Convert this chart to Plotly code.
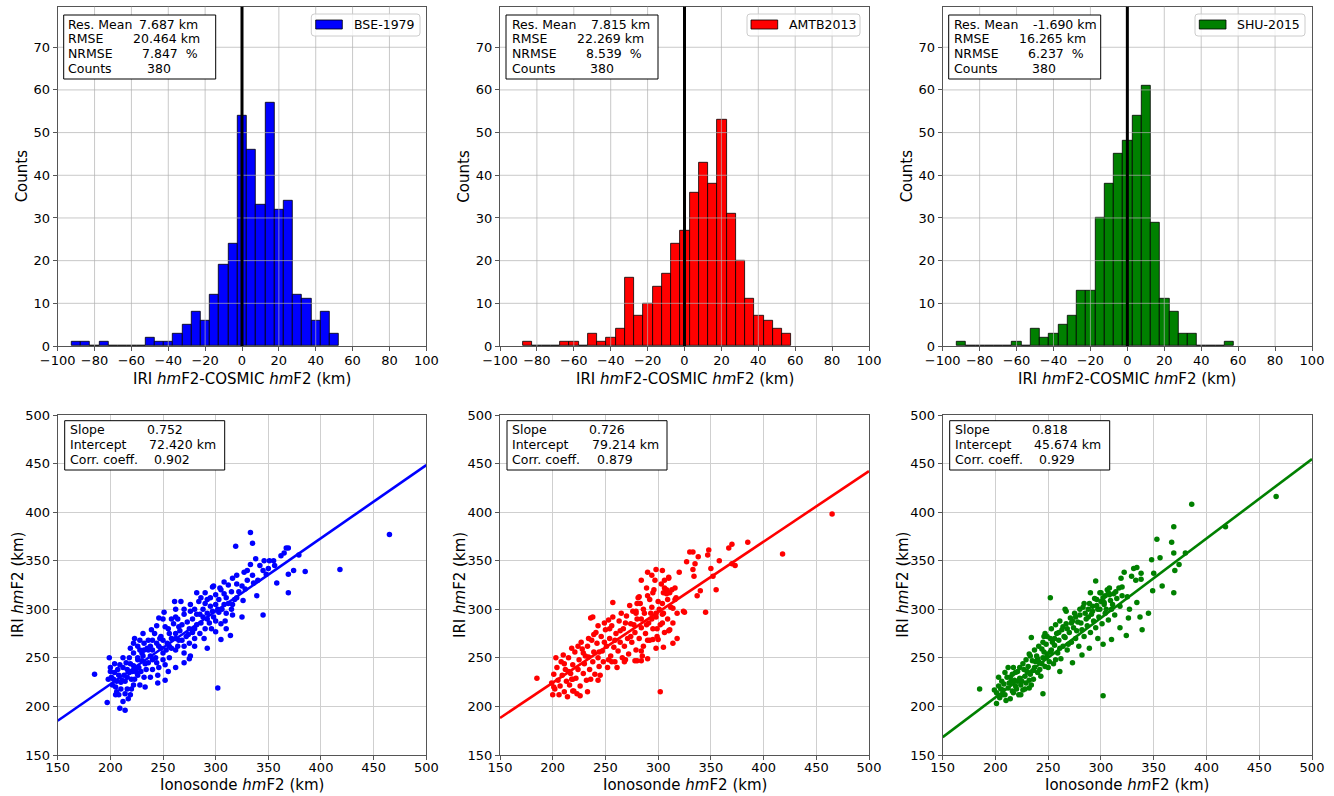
import plotly.graph_objects as go

W, H = 1334, 796
FONT = "DejaVu Sans"

models = ["BSE-1979", "AMTB2013", "SHU-2015"]
colors = ["#0000ff", "#ff0000", "#008000"]

# Residual histograms (IRI hmF2 - COSMIC hmF2): counts per 5 km bin
bse_counts = [1, 1, 0, 1, 0, 0, 0, 0, 2, 1, 1, 3, 5, 8, 6, 12, 19, 24, 54, 46,
              33, 57, 32, 34, 12, 11, 6, 8, 3]
amtb_counts = [1, 0, 0, 0, 1, 1, 0, 3, 1, 2, 4, 16, 7, 10, 14, 17, 24, 27, 36, 43,
               38, 53, 31, 20, 11, 7, 6, 4, 3]
shu_counts = [1, 0, 0, 0, 0, 0, 1, 0, 4, 2, 3, 5, 7, 13, 13, 30, 38, 45, 48, 54,
              61, 29, 11, 8, 3, 3, 0, 0, 0, 1]
# first and last bin edge (km)
bse_edges = (-92.4, 52.6)
amtb_edges = (-87.4, 57.9)
shu_edges = (-92.4, 57.7)

stat_labels = ["Res. Mean", "RMSE", "NRMSE", "Counts"]
bse_stats = ["7.687 km", "20.464 km", "7.847  %", "380"]
amtb_stats = ["7.815 km", "22.269 km", "8.539  %", "380"]
shu_stats = ["-1.690 km", "16.265 km", "6.237  %", "380"]

# Linear fits of IRI hmF2 against ionosonde hmF2
fit_labels = ["Slope", "Intercept", "Corr. coeff."]
slopes = [0.752, 0.726, 0.818]
intercepts = [72.420, 79.214, 45.674]
corrs = [0.902, 0.879, 0.929]

hist_xticks = list(range(-100, 101, 20))
hist_yticks = list(range(0, 71, 10))
sc_ticks = list(range(150, 501, 50))

# Ionosonde hmF2 (x) vs IRI hmF2 (y), km
bse_pts = [
    (185, 233), (465, 377), (418, 341), (302, 219), (385, 339), (369, 317), (345, 294),
    (333, 379), (335, 368), (319, 365), (367, 363), (369, 363), (379, 356), (374, 340),
    (369, 336), (358, 327), (333, 346), (338, 352), (346, 350), (351, 350), (356, 345),
    (348, 336), (336, 327), (339, 314), (326, 309), (325, 292), (314, 273), (305, 269),
    (316, 294), (309, 288), (297, 323), (298, 324), (290, 317), (267, 308), (261, 308),
    (251, 297), (246, 291), (239, 279), (231, 275), (223, 270), (219, 260), (199, 250),
    (197, 204), (209, 198), (214, 196), (252, 227), (245, 224), (275, 249), (292, 260),
    (289, 270), (233, 220), (219, 212),
    (208, 212), (212, 205), (217, 208), (205, 220), (210, 225), (203, 228), (213, 232),
    (220, 228), (225, 235), (228, 222), (232, 230), (222, 242), (215, 245), (207, 238),
    (200, 236), (204, 244), (212, 250), (218, 250), (226, 248), (230, 255), (236, 245),
    (240, 238), (243, 250), (238, 262), (232, 265), (228, 258), (246, 262), (250, 255),
    (254, 265), (258, 270), (248, 272), (244, 283), (250, 290), (255, 280), (262, 275),
    (265, 268), (270, 262), (272, 272), (268, 284), (275, 280), (278, 290), (282, 284),
    (285, 295), (288, 300), (280, 300), (284, 308), (292, 296), (295, 303), (298, 292),
    (300, 305), (303, 310), (306, 300), (310, 312), (312, 306), (308, 316), (300, 288),
    (296, 280), (305, 285), (290, 280), (285, 275), (280, 270), (275, 265), (270, 255),
    (262, 258), (256, 250), (252, 243), (246, 240), (240, 248), (236, 258), (258, 260),
    (264, 262), (280, 262), (276, 252), (270, 245), (262, 240), (255, 236), (245, 232),
    (238, 230), (234, 238), (300, 277), (310, 280), (315, 300), (318, 310), (322, 318),
    (325, 324), (330, 330), (335, 335), (328, 321), (320, 326), (315, 318), (312, 325),
    (305, 320), (300, 315), (295, 312), (290, 306), (282, 295), (276, 298), (270, 295),
    (264, 290), (262, 300), (258, 290), (252, 282), (247, 270), (240, 268), (235, 260),
    (230, 247), (224, 238), (218, 235), (214, 226), (208, 232), (202, 222), (205, 212),
    (210, 218), (216, 218), (222, 222), (226, 232), (212, 240), (219, 244), (226, 262),
    (222, 255), (231, 252), (236, 268), (242, 275), (240, 258), (248, 260), (253, 258),
    (260, 285), (266, 278), (273, 287), (278, 276), (286, 286), (292, 290), (297, 298),
    (303, 297), (308, 305), (292, 310), (286, 312), (310, 296), (316, 305), (320, 312),
    (340, 330), (345, 340), (350, 342), (355, 350), (362, 355), (365, 358), (342, 345),
    (330, 340), (327, 338), (320, 335), (316, 332), (308, 328), (304, 322), (265, 282),
    (262, 270), (256, 275), (250, 268), (244, 265), (238, 252), (233, 244), (227, 240),
    (221, 236), (216, 230), (211, 227), (206, 226), (201, 230), (204, 235), (209, 243),
    (216, 238), (223, 228), (229, 236), (206, 215), (214, 213), (220, 218), (200, 240),
    (198, 228), (232, 258), (228, 268), (222, 265), (226, 250), (244, 245), (250, 248),
    (256, 262), (268, 268), (274, 274), (280, 280), (288, 292), (294, 286), (302, 300),
    (270, 300), (276, 305), (282, 317), (262, 292),
]
amtb_pts = [
    (185, 229), (465, 398), (418, 357), (302, 215), (385, 369), (370, 367), (367, 363),
    (348, 361), (347, 356), (358, 350), (373, 345), (370, 347), (355, 320), (352, 334),
    (350, 342), (345, 297), (340, 319), (337, 314), (330, 359), (333, 359), (338, 354),
    (327, 349), (333, 341), (335, 347), (334, 334), (325, 297), (324, 298), (318, 270),
    (314, 265), (311, 279), (310, 278), (305, 261), (298, 260), (290, 249), (284, 257),
    (280, 247), (284, 247), (290, 268), (295, 269), (300, 269), (304, 286), (304, 295),
    (298, 296), (314, 301), (316, 310), (305, 317), (308, 320), (311, 317), (306, 330),
    (310, 333), (306, 322), (298, 341), (290, 338), (294, 335), (284, 330), (295, 317),
    (292, 310), (282, 313), (280, 306), (279, 298), (286, 300), (257, 307), (236, 291),
    (238, 292), (243, 283), (253, 289), (226, 211), (233, 215), (219, 216), (201, 220),
    (218, 228), (243, 227), (256, 246), (268, 246), (278, 247),
    (199, 224), (201, 233), (202, 218), (204, 240), (205, 227), (207, 221), (208, 246),
    (209, 232), (211, 215), (212, 238), (213, 226), (215, 250), (216, 222), (217, 234),
    (219, 243), (220, 216), (221, 256), (222, 229), (224, 238), (225, 248), (226, 221),
    (228, 259), (229, 234), (230, 244), (232, 227), (233, 262), (234, 251), (235, 238),
    (237, 268), (238, 246), (239, 256), (240, 233), (242, 265), (243, 250), (244, 241),
    (246, 272), (247, 257), (248, 246), (250, 279), (251, 262), (252, 240), (254, 270),
    (255, 252), (256, 283), (258, 261), (259, 246), (260, 275), (262, 257), (263, 288),
    (264, 266), (266, 250), (267, 280), (268, 262), (270, 293), (271, 270), (272, 254),
    (274, 285), (275, 266), (276, 298), (278, 276), (279, 258), (280, 290), (282, 270),
    (283, 306), (284, 281), (286, 262), (287, 296), (288, 275), (290, 314), (291, 286),
    (292, 268), (294, 302), (295, 280), (296, 320), (298, 292), (299, 272), (300, 308),
    (302, 284), (303, 326), (305, 296), (306, 276), (308, 316), (309, 290), (310, 332),
    (312, 302), (314, 286), (316, 322), (318, 296), (320, 338), (203, 250), (206, 212),
    (210, 253), (214, 210), (218, 260), (223, 213), (227, 266), (231, 252), (236, 228),
    (241, 276), (245, 232), (249, 286), (253, 248), (257, 292), (261, 240), (265, 296),
    (269, 248), (273, 304), (277, 284), (281, 312), (285, 252), (289, 322), (293, 296),
    (297, 330), (301, 300), (304, 340), (200, 212), (211, 244), (215, 236), (219, 228),
    (224, 262), (229, 255), (234, 270), (239, 274), (244, 256), (249, 266), (254, 280),
    (259, 268), (264, 278), (269, 286), (274, 272), (279, 296), (284, 290), (289, 284),
    (294, 290), (299, 280), (304, 306), (309, 310), (313, 320), (317, 312),
]
shu_pts = [
    (185, 218), (466, 416), (418, 385), (302, 211), (386, 408), (369, 385), (367, 369),
    (353, 372), (356, 353), (348, 351), (350, 337), (369, 358), (380, 358), (374, 346),
    (370, 340), (369, 317), (358, 324), (349, 319), (345, 296), (339, 279), (337, 292),
    (334, 307), (333, 330), (338, 331), (331, 342), (334, 343), (329, 334), (338, 337),
    (322, 338), (319, 332), (320, 323), (325, 313), (327, 300), (326, 291), (324, 273),
    (318, 281), (310, 269), (302, 264), (297, 270), (289, 260), (282, 253), (273, 245),
    (261, 236), (245, 213), (252, 312), (266, 300), (267, 298), (295, 329), (290, 317),
    (299, 317), (303, 307), (307, 317), (234, 271), (232, 254), (247, 275), (246, 272),
    (201, 203), (199, 217), (207, 212),
    (201, 214), (203, 221), (204, 209), (206, 226), (207, 217), (209, 212), (211, 230),
    (212, 219), (213, 224), (214, 208), (216, 233), (217, 214), (218, 227), (219, 221),
    (221, 236), (222, 212), (223, 229), (224, 222), (226, 217), (227, 238), (228, 231),
    (229, 224), (231, 241), (232, 219), (233, 233), (235, 247), (236, 228), (237, 240),
    (239, 252), (240, 235), (241, 246), (243, 231), (244, 259), (245, 250), (247, 241),
    (248, 264), (249, 254), (251, 246), (252, 270), (253, 258), (255, 244), (256, 263),
    (258, 275), (259, 255), (260, 268), (262, 249), (263, 279), (264, 262), (266, 271),
    (267, 285), (268, 258), (270, 276), (271, 291), (272, 266), (274, 281), (275, 296),
    (276, 270), (278, 287), (279, 262), (280, 294), (282, 279), (283, 302), (284, 272),
    (286, 290), (287, 283), (289, 306), (290, 276), (291, 295), (293, 288), (294, 311),
    (295, 281), (297, 300), (298, 292), (300, 317), (301, 285), (303, 305), (304, 296),
    (306, 320), (307, 289), (309, 309), (310, 300), (312, 316), (313, 294), (315, 311),
    (317, 322), (318, 303), (320, 314), (215, 226), (208, 223), (210, 206), (220, 218),
    (225, 226), (230, 236), (234, 222), (238, 246), (242, 238), (246, 256), (250, 240),
    (254, 266), (257, 248), (261, 260), (265, 272), (269, 264), (273, 288), (277, 278),
    (281, 286), (285, 296), (288, 300), (292, 303), (296, 310), (299, 300), (302, 312),
    (305, 300), (308, 315), (311, 305), (314, 318), (216, 216), (219, 235), (223, 240),
    (226, 244), (229, 248), (233, 252), (237, 258), (241, 262), (245, 266), (249, 272),
    (253, 280), (257, 284), (261, 288), (203, 230), (205, 218), (209, 235), (212, 240),
    (214, 230), (217, 240), (221, 226), (224, 212), (228, 218), (232, 227), (236, 237),
    (240, 249), (244, 244), (248, 250), (252, 256), (256, 270), (260, 276), (264, 282),
    (268, 280), (272, 286), (276, 292), (280, 300), (284, 306), (288, 292), (292, 298),
    (296, 304), (300, 308), (304, 314), (308, 322),
]

hist_counts = [bse_counts, amtb_counts, shu_counts]
hist_edges = [bse_edges, amtb_edges, shu_edges]
hist_stats = [bse_stats, amtb_stats, shu_stats]
scatter_pts = [bse_pts, amtb_pts, shu_pts]

# Panel placement in pixels (left, right) and (top, bottom)
col_px = [(57.7, 426.3), (500.0, 869.0), (942.7, 1312.0)]
row_px = [(6.7, 346.0), (415.0, 755.0)]

# Text placement inside panels, pixel offsets from the panel's top-left corner
hist_label_x = [9.7, 10.7, 10.0]
hist_value_x = [[80.7, 74.7, 83.0, 88.0], [90.0, 76.0, 85.0, 88.7], [89.3, 75.7, 84.7, 88.0]]
hist_line_y = [17.3, 32.0, 46.6, 61.3]
hist_box = (6.0, 158.0, 8.3, 72.3)
# legend: box left/right, patch left/right, text left (all measured from panel right edge)
legend_geom = [(115, 6.3, 110.6, 84, 73.6), (122, 9, 118, 91.3, 81.3), (117, 7, 112.7, 86, 76)]
legend_y = (7.3, 29.3, 13.3, 22.3, 17.6)
fit_box = (7.0, 167.0, 5.7, 55.0)
fit_line_y = [15.0, 29.3, 44.3]
fit_label_x = 11.0
fit_value_x = [88.0, 90.5, 95.5]

TXT = 12.5
TICK = 13
TITLE = 15


def nb(s):
    return s.replace(" ", "\u00a0")


fig = go.Figure()
shapes = []
annotations = []
layout = dict(
    width=W, height=H, margin=dict(l=0, r=0, t=0, b=0, autoexpand=False),
    paper_bgcolor="white", plot_bgcolor="white", showlegend=False,
    font=dict(family=FONT, size=TICK, color="black"), bargap=0,
)


def axis_common(domain, rng, ticks, anchor, standoff):
    return dict(
        domain=domain, range=rng, tickvals=ticks, anchor=anchor, automargin=False,
        showline=True, mirror=True, linecolor="#555555", linewidth=1,
        ticks="outside", ticklen=4, tickcolor="#555555", tickwidth=1,
        ticklabelstandoff=standoff,
        zeroline=False, fixedrange=True,
        tickfont=dict(family=FONT, size=TICK, color="black"),
    )


def text_ann(xref, yref, x, y, text, size=TXT, xanchor="left", angle=0, yanchor="middle"):
    annotations.append(dict(
        xref=xref, yref=yref, x=x, y=y, text=text, showarrow=False,
        xanchor=xanchor, yanchor=yanchor, textangle=angle, borderpad=0,
        font=dict(family=FONT, size=size, color="black"),
    ))


for i in range(3):
    cl, cr = col_px[i]
    pw = cr - cl
    xdom = [cl / W, cr / W]

    # ---------- histogram ----------
    top, bot = row_px[0]
    ph = bot - top
    ydom = [1 - bot / H, 1 - top / H]
    n = i + 1
    xa, ya = ("x" if n == 1 else f"x{n}"), ("y" if n == 1 else f"y{n}")
    xd, yd = f"{xa} domain", f"{ya} domain"
    fx = lambda px, pw=pw: px / pw
    fy = lambda py, ph=ph: 1 - py / ph

    counts = hist_counts[i]
    lo, hi = hist_edges[i]
    nb_bins = len(counts)
    bw = (hi - lo) / nb_bins
    centers = [lo + bw * (k + 0.5) for k in range(nb_bins)]
    fig.add_trace(go.Bar(
        x=centers, y=counts, width=bw, xaxis=xa, yaxis=ya, name=models[i],
        marker=dict(color=colors[i], line=dict(color="black", width=0.8)),
    ))
    layout[f"xaxis{'' if n == 1 else n}"] = dict(
        axis_common(xdom, [-100, 100], hist_xticks, ya, -2), showgrid=False)
    layout[f"yaxis{'' if n == 1 else n}"] = dict(
        axis_common(ydom, [0, 79.5], hist_yticks, xa, 0), showgrid=False)

    # grid drawn over the bars
    for t in hist_xticks[1:-1]:
        shapes.append(dict(type="line", xref=xa, yref=yd, x0=t, x1=t, y0=0, y1=1,
                           line=dict(color="rgba(176,176,176,0.7)", width=1), layer="above"))
    for t in hist_yticks[1:]:
        shapes.append(dict(type="line", xref=xd, yref=ya, x0=0, x1=1, y0=t, y1=t,
                           line=dict(color="rgba(176,176,176,0.7)", width=1), layer="above"))
    shapes.append(dict(type="line", xref=xa, yref=yd, x0=0, x1=0, y0=0, y1=1,
                       line=dict(color="black", width=3), layer="above"))

    # statistics box
    bl, br, bt, bb = hist_box
    shapes.append(dict(type="rect", xref=xd, yref=yd, x0=fx(bl), x1=fx(br), y0=fy(bb), y1=fy(bt),
                       line=dict(color="black", width=1), fillcolor="white", layer="above"))
    for k, lab in enumerate(stat_labels):
        text_ann(xd, yd, fx(hist_label_x[i]), fy(hist_line_y[k]), nb(lab))
        text_ann(xd, yd, fx(hist_value_x[i][k]), fy(hist_line_y[k]), nb(hist_stats[i][k]))

    # legend
    gl, gr, pl, pr, tx = legend_geom[i]
    lt, lb, pt, pb, ty = legend_y
    x0, x1 = fx(pw - gl), fx(pw - gr)
    y0, y1 = fy(lb), fy(lt)
    rx, ry = 3 / pw, 3 / ph
    path = (f"M{x0 + rx},{y1} L{x1 - rx},{y1} Q{x1},{y1} {x1},{y1 - ry} "
            f"L{x1},{y0 + ry} Q{x1},{y0} {x1 - rx},{y0} L{x0 + rx},{y0} "
            f"Q{x0},{y0} {x0},{y0 + ry} L{x0},{y1 - ry} Q{x0},{y1} {x0 + rx},{y1} Z")
    shapes.append(dict(type="path", xref=xd, yref=yd, path=path,
                       line=dict(color="#cccccc", width=1), fillcolor="rgba(255,255,255,0.8)",
                       layer="above"))
    shapes.append(dict(type="rect", xref=xd, yref=yd, x0=fx(pw - pl), x1=fx(pw - pr),
                       y0=fy(pb), y1=fy(pt), line=dict(color="black", width=0.8),
                       fillcolor=colors[i], layer="above"))
    text_ann(xd, yd, fx(pw - tx), fy(ty), models[i])

    # axis titles
    text_ann(xd, yd, 0.5, fy(ph + 33), "IRI <i>hm</i>F2-COSMIC <i>hm</i>F2 (km)",
             size=TITLE, xanchor="center")
    text_ann(xd, yd, fx(-35.7), 0.5, "Counts", size=TITLE, xanchor="center", angle=-90)

    # ---------- scatter ----------
    top, bot = row_px[1]
    ph = bot - top
    ydom = [1 - bot / H, 1 - top / H]
    n = i + 4
    xa, ya = f"x{n}", f"y{n}"
    xd, yd = f"{xa} domain", f"{ya} domain"
    fy = lambda py, ph=ph: 1 - py / ph

    px_, py_ = zip(*scatter_pts[i])
    fig.add_trace(go.Scatter(
        x=list(px_), y=list(py_), mode="markers", xaxis=xa, yaxis=ya,
        marker=dict(color=colors[i], size=5.5, line=dict(width=0)),
    ))
    fit_x = [150, 500]
    fit_y = [slopes[i] * v + intercepts[i] for v in fit_x]
    fig.add_trace(go.Scatter(
        x=fit_x, y=fit_y, mode="lines", xaxis=xa, yaxis=ya,
        line=dict(color=colors[i], width=2.6),
    ))
    grid = dict(showgrid=True, gridcolor="#cfcfcf", gridwidth=1)
    layout[f"xaxis{n}"] = dict(axis_common(xdom, [150, 500], sc_ticks, ya, -4), **grid)
    layout[f"yaxis{n}"] = dict(axis_common(ydom, [150, 500], sc_ticks, xa, 0), **grid)

    bl, br, bt, bb = fit_box
    shapes.append(dict(type="rect", xref=xd, yref=yd, x0=fx(bl), x1=fx(br), y0=fy(bb), y1=fy(bt),
                       line=dict(color="black", width=1), fillcolor="white", layer="above"))
    fit_vals = [f"{slopes[i]:.3f}", f"{intercepts[i]:.3f} km", f"{corrs[i]:.3f}"]
    for k, lab in enumerate(fit_labels):
        text_ann(xd, yd, fx(fit_label_x), fy(fit_line_y[k]), nb(lab))
        text_ann(xd, yd, fx(fit_value_x[k]), fy(fit_line_y[k]), fit_vals[k])

    text_ann(xd, yd, 0.5, fy(ph + 30), "Ionosonde <i>hm</i>F2 (km)", size=TITLE, xanchor="center")
    text_ann(xd, yd, fx(-40), 0.5, "IRI <i>hm</i>F2 (km)", size=TITLE, xanchor="center", angle=-90)

layout["shapes"] = shapes
layout["annotations"] = annotations
fig.update_layout(**layout)
fig.write_html(
    "out.html",
    post_script="document.body.style.margin='0';document.body.style.overflow='hidden';",
)
